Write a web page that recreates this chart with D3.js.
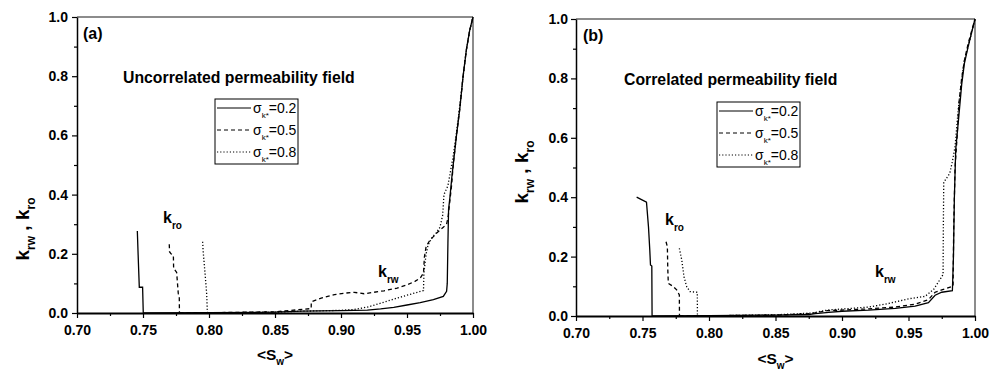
<!DOCTYPE html>
<html><head><meta charset="utf-8">
<script src="https://cdn.jsdelivr.net/npm/d3@7"></script>
<style>
html,body{margin:0;padding:0;background:#fff;}
svg{display:block;font-family:"Liberation Sans",Arial,sans-serif;}
</style></head>
<body>
<svg id="chart" width="990" height="372"></svg>
<script>
// ---------- data ----------
const xTicks = [0.70, 0.75, 0.80, 0.85, 0.90, 0.95, 1.00];
const yTicks = [0.0, 0.2, 0.4, 0.6, 0.8, 1.0];
const legendLabels = ["0.2", "0.5", "0.8"];
const panelLabels = ["(a)", "(b)"];
const panelTitles = ["Uncorrelated permeability field", "Correlated permeability field"];

// Panel (a) – uncorrelated
const kroA02 = [[0.7457,0.277],[0.7465,0.173],[0.7472,0.087],[0.7497,0.087],[0.7502,0]];
const kroA05 = [[0.7699,0.232],[0.7701,0.207],[0.7712,0.200],[0.7730,0.196],[0.7732,0.151],[0.7755,0.137],[0.7767,0.067],[0.7775,0.05],[0.7776,0]];
const kroA08 = [[0.7952,0.241],[0.7955,0.213],[0.7970,0.134],[0.7982,0.067],[0.7987,0.01],[0.7988,0]];
const krwA02 = [[0.7502,0],[0.80,0.001],[0.85,0.003],[0.87,0.006],[0.90,0.008],[0.92,0.010],[0.93,0.014],[0.94,0.019],[0.95,0.027],[0.96,0.035],[0.97,0.045],[0.9775,0.056],[0.980,0.073],[0.9805,0.10],[0.981,0.236],[0.9815,0.35],[0.9825,0.39],[0.984,0.46],[0.985,0.50],[0.9875,0.60],[0.990,0.69],[0.9925,0.80],[0.995,0.89],[0.9975,0.955],[1.0,1.0]];
const krwA05 = [[0.7776,0],[0.80,0.001],[0.85,0.004],[0.8774,0.015],[0.8775,0.038],[0.885,0.05],[0.895,0.062],[0.9025,0.067],[0.91,0.07],[0.9175,0.065],[0.925,0.07],[0.9325,0.075],[0.9425,0.084],[0.95,0.095],[0.956,0.107],[0.96,0.118],[0.9625,0.135],[0.9632,0.19],[0.9645,0.225],[0.9675,0.247],[0.970,0.258],[0.9725,0.27],[0.975,0.28],[0.9775,0.29],[0.980,0.30],[0.9812,0.326],[0.9825,0.38],[0.98375,0.43],[0.985,0.50],[0.9875,0.60],[0.99,0.69],[0.9925,0.80],[0.995,0.89],[0.9975,0.955],[1.0,1.0]];
const krwA08 = [[0.7988,0],[0.85,0.003],[0.87,0.006],[0.90,0.009],[0.91,0.012],[0.92,0.020],[0.93,0.033],[0.94,0.047],[0.95,0.060],[0.9625,0.076],[0.9628,0.135],[0.9645,0.20],[0.966,0.23],[0.969,0.255],[0.972,0.27],[0.975,0.29],[0.977,0.33],[0.978,0.40],[0.981,0.43],[0.983,0.48],[0.985,0.53],[0.9875,0.61],[0.99,0.70],[0.9925,0.80],[0.995,0.89],[0.9975,0.955],[1.0,1.0]];

// Panel (b) – correlated
const kroB02 = [[0.7456,0.40],[0.7500,0.39],[0.7530,0.383],[0.7545,0.30],[0.7555,0.22],[0.7560,0.172],[0.7570,0.168],[0.7572,0]];
const kroB05 = [[0.7677,0.25],[0.7687,0.233],[0.7690,0.16],[0.7694,0.11],[0.7732,0.099],[0.7757,0.088],[0.7777,0.071],[0.7778,0]];
const kroB08 = [[0.7777,0.228],[0.7795,0.189],[0.7812,0.132],[0.7832,0.099],[0.7857,0.082],[0.7912,0.08],[0.7913,0]];
const krwB02 = [[0.7572,0],[0.80,0.001],[0.85,0.003],[0.875,0.005],[0.88,0.008],[0.89,0.012],[0.90,0.016],[0.92,0.02],[0.94,0.026],[0.955,0.033],[0.965,0.045],[0.970,0.07],[0.975,0.08],[0.983,0.085],[0.9838,0.2],[0.9845,0.4],[0.9855,0.56],[0.988,0.68],[0.990,0.78],[0.992,0.85],[0.995,0.91],[0.9975,0.955],[1.0,1.0]];
const krwB05 = [[0.7778,0],[0.85,0.003],[0.877,0.008],[0.889,0.018],[0.90,0.02],[0.92,0.024],[0.94,0.03],[0.955,0.04],[0.965,0.055],[0.970,0.08],[0.975,0.088],[0.9835,0.10],[0.984,0.3],[0.985,0.5],[0.9865,0.6],[0.988,0.72],[0.990,0.8],[0.992,0.86],[0.995,0.92],[0.9975,0.96],[1.0,1.0]];
const krwB08 = [[0.7913,0],[0.85,0.004],[0.8775,0.01],[0.889,0.02],[0.92,0.03],[0.935,0.042],[0.95,0.058],[0.9625,0.066],[0.969,0.09],[0.974,0.125],[0.976,0.14],[0.9762,0.30],[0.9765,0.45],[0.981,0.48],[0.983,0.52],[0.985,0.57],[0.9875,0.7],[0.990,0.8],[0.9925,0.87],[0.995,0.91],[0.9975,0.955],[1.0,1.0]];

// ---------- drawing ----------
const svg = d3.select("#chart");
const dashes = [null, "4,3", "1.2,2"];

const panels = [
  {x0:77, x1:473, y0:17, y1:313, label:panelLabels[0], title:panelTitles[0],
   series:[[kroA02,krwA02],[kroA05,krwA05],[kroA08,krwA08]],
   labelPos:[83,39], titlePos:[123,83], legend:[215,99],
   kro:[163,223], krw:[378,277], ytitle:[29,229], xtitleY:360, yPad:4},
  {x0:576, x1:975, y0:19, y1:316, label:panelLabels[1], title:panelTitles[1],
   series:[[kroB02,krwB02],[kroB05,krwB05],[kroB08,krwB08]],
   labelPos:[583,41], titlePos:[624,85], legend:[717,102],
   kro:[665,225], krw:[875,277], ytitle:[528,172], xtitleY:364, yPad:3}
];

panels.forEach(p => {
  const g = svg.append("g");
  const x = d3.scaleLinear().domain([0.70, 1.00]).range([p.x0, p.x1]);
  const y = d3.scaleLinear().domain([0, 1]).range([p.y1, p.y0]);

  // top / right frame
  g.append("line").attr("x1", p.x0).attr("x2", p.x1).attr("y1", p.y0).attr("y2", p.y0)
    .attr("stroke", "#666").attr("stroke-width", 1.5);
  g.append("line").attr("x1", p.x1).attr("x2", p.x1).attr("y1", p.y0).attr("y2", p.y1)
    .attr("stroke", "#666").attr("stroke-width", 1.5);

  // curves
  const line = d3.line().x(d => x(d[0])).y(d => y(d[1]));
  p.series.forEach((pair, i) => {
    pair.forEach(data => {
      g.append("path").datum(data).attr("d", line)
        .attr("fill", "none").attr("stroke", "#000").attr("stroke-width", 1.3)
        .attr("stroke-dasharray", dashes[i]);
    });
  });

  // x axis
  const xMinor = d3.range(0.725, 1.0, 0.05);
  g.append("g").attr("transform", `translate(0,${p.y1})`)
    .call(d3.axisBottom(x).tickValues(xMinor).tickSize(3).tickFormat(""))
    .call(a => a.select(".domain").remove())
    .call(a => a.selectAll("line").attr("stroke-width", 1.2));
  const xa = g.append("g").attr("transform", `translate(0,${p.y1})`)
    .call(d3.axisBottom(x).tickValues(xTicks).tickSize(5).tickSizeOuter(0).tickPadding(7).tickFormat(d3.format(".2f")));
  xa.select(".domain").attr("stroke-width", 2);
  xa.selectAll("line").attr("stroke-width", 1.2);
  xa.selectAll("text").attr("font-size", "14px").attr("font-weight", "bold")
    .attr("font-family", "'Liberation Sans',Arial,sans-serif");

  // y axis
  const yMinor = d3.range(0.1, 1.0, 0.2);
  g.append("g").attr("transform", `translate(${p.x0},0)`)
    .call(d3.axisLeft(y).tickValues(yMinor).tickSize(3).tickFormat(""))
    .call(a => a.select(".domain").remove())
    .call(a => a.selectAll("line").attr("stroke-width", 1.2));
  const ya = g.append("g").attr("transform", `translate(${p.x0},0)`)
    .call(d3.axisLeft(y).tickValues(yTicks).tickSize(5).tickSizeOuter(0).tickPadding(p.yPad).tickFormat(d3.format(".1f")));
  ya.select(".domain").attr("stroke-width", 1.5);
  ya.selectAll("line").attr("stroke-width", 1.2);
  ya.selectAll("text").attr("font-size", "14px").attr("font-weight", "bold")
    .attr("font-family", "'Liberation Sans',Arial,sans-serif");

  // panel label & title
  g.append("text").attr("x", p.labelPos[0]).attr("y", p.labelPos[1])
    .attr("font-size", "16px").attr("font-weight", "bold").text(p.label);
  g.append("text").attr("x", p.titlePos[0]).attr("y", p.titlePos[1])
    .attr("font-size", "15.8px").attr("font-weight", "bold").text(p.title);

  // k labels
  function kLabel(pos, sub) {
    const t = g.append("text").attr("x", pos[0]).attr("y", pos[1]).attr("font-weight", "bold");
    t.append("tspan").attr("font-size", "16px").text("k");
    t.append("tspan").attr("font-size", "10px").attr("dy", 6).text(sub);
  }
  kLabel(p.kro, "ro");
  kLabel(p.krw, "rw");

  // y title
  const yt = g.append("text").attr("transform", `translate(${p.ytitle[0]},${p.ytitle[1]}) rotate(-90)`)
    .attr("text-anchor", "middle").attr("font-weight", "bold");
  yt.append("tspan").attr("font-size", "19px").text("k");
  yt.append("tspan").attr("font-size", "12px").attr("dy", 6).text("rw");
  yt.append("tspan").attr("font-size", "19px").attr("dy", -6).text(" , k");
  yt.append("tspan").attr("font-size", "12px").attr("dy", 6).text("ro");

  // x title
  const xt = g.append("text").attr("x", (p.x0 + p.x1) / 2).attr("y", p.xtitleY)
    .attr("text-anchor", "middle").attr("font-weight", "bold");
  xt.append("tspan").attr("font-size", "15.5px").text("<S");
  xt.append("tspan").attr("font-size", "10px").attr("dy", 5).text("w");
  xt.append("tspan").attr("font-size", "15.5px").attr("dy", -5).text(">");

  // legend
  const [lx, ly] = p.legend;
  g.append("rect").attr("x", lx).attr("y", ly).attr("width", 83).attr("height", 65)
    .attr("fill", "#fff").attr("stroke", "#000").attr("stroke-width", 1);
  legendLabels.forEach((lab, i) => {
    const cy = ly + 9 + i * 22;
    g.append("line").attr("x1", lx + 2).attr("x2", lx + 36).attr("y1", cy).attr("y2", cy)
      .attr("stroke", "#000").attr("stroke-width", 1).attr("stroke-dasharray", dashes[i]);
    const t = g.append("text").attr("x", lx + 38).attr("y", cy + 5);
    t.append("tspan").attr("font-size", "14px").text("σ");
    t.append("tspan").attr("font-size", "8px").attr("dy", 5).text("k*");
    t.append("tspan").attr("font-size", "14px").attr("dy", -5).text("=" + lab);
  });
});
</script>
</body></html>
